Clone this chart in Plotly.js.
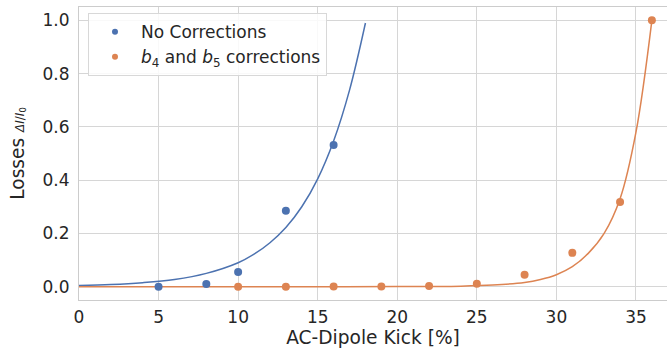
<!DOCTYPE html>
<html>
<head>
<meta charset="utf-8">
<script src="https://cdn.plot.ly/plotly-3.0.1.min.js"></script>
<style>html,body{margin:0;padding:0;background:#fff;}#chart{width:667px;height:350px;}</style>
</head>
<body>
<div id="chart"></div>
<script>
// Measured points
const kickNoCorr = [5, 8, 10, 13, 16];
const lossNoCorr = [0.0, 0.01, 0.055, 0.285, 0.532];
const kickCorr = [10, 13, 16, 19, 22, 25, 28, 31, 34, 36];
const lossCorr = [0.0, 0.0, 0.001, 0.001, 0.003, 0.011, 0.045, 0.127, 0.318, 1.0];

// Fit curves
const fitKickNoCorr = [0, 2, 4, 6, 8, 10, 11, 12, 13, 14, 15, 16, 17, 18];
const fitLossNoCorr = [0.0045, 0.008, 0.015, 0.027, 0.05, 0.09, 0.122, 0.165, 0.222, 0.30, 0.405, 0.547, 0.738, 0.99];
const fitKickCorr = [0, 10, 15, 20, 22, 24, 26, 28, 29, 30, 31, 32, 33, 34, 35, 36];
const fitLossCorr = [0.0, 0.0, 0.0001, 0.0004, 0.001, 0.002, 0.006, 0.016, 0.027, 0.045, 0.075, 0.125, 0.2, 0.33, 0.58, 1.0];

const seriesNames = ['No Corrections', '<i>b</i><sub>4</sub> and <i>b</i><sub>5</sub> corrections'];
const xTicks = [0, 5, 10, 15, 20, 25, 30, 35];
const yTicks = [0.0, 0.2, 0.4, 0.6, 0.8, 1.0];
const yTickText = ['0.0', '0.2', '0.4', '0.6', '0.8', '1.0'];

const blue = '#4c72b0', orange = '#dd8452';

const data = [
  {x: fitKickNoCorr, y: fitLossNoCorr, mode: 'lines', line: {color: blue, width: 1.5, shape: 'spline'}, showlegend: false, hoverinfo: 'skip'},
  {x: fitKickCorr, y: fitLossCorr, mode: 'lines', line: {color: orange, width: 1.5, shape: 'spline'}, showlegend: false, hoverinfo: 'skip'},
  {x: kickNoCorr, y: lossNoCorr, mode: 'markers', showlegend: false, marker: {color: blue, size: 8}},
  {x: kickCorr, y: lossCorr, mode: 'markers', showlegend: false, marker: {color: orange, size: 8}},
  // legend-only entries with the smaller legend marker
  {x: [null], y: [null], mode: 'markers', name: seriesNames[0], marker: {color: blue, size: 6}},
  {x: [null], y: [null], mode: 'markers', name: seriesNames[1], marker: {color: orange, size: 6}}
];

const layout = {
  width: 667, height: 350,
  margin: {l: 79, r: 0, t: 7, b: 50},
  paper_bgcolor: '#fff', plot_bgcolor: '#fff',
  font: {family: 'DejaVu Sans', size: 17, color: '#262626'},
  xaxis: {
    range: [0, 36.95], tickvals: xTicks, ticks: '', showgrid: true, gridcolor: '#d6d6d6', gridwidth: 1,
    zeroline: false, showline: true, mirror: true, linecolor: '#cccccc', linewidth: 1,
    tickfont: {size: 17}, ticklabelstandoff: 2,
    title: {text: 'AC-Dipole Kick [%]', font: {size: 18.6}, standoff: 4}
  },
  yaxis: {
    range: [-0.05, 1.05], tickvals: yTicks, ticktext: yTickText, ticks: '', showgrid: true, gridcolor: '#d6d6d6', gridwidth: 1,
    zeroline: false, showline: true, linecolor: '#cccccc', linewidth: 1,
    tickfont: {size: 17}, ticklabelstandoff: 5,
    title: {text: "Losses <span style='font-size:12px'><i>ΔI</i>/<i>I</i><sub>0</sub></span>", font: {size: 18.6}, standoff: 13}
  },
  legend: {
    x: 0.0153, y: 0.979, xanchor: 'left', yanchor: 'top',
    bgcolor: 'rgba(255,255,255,0.85)', bordercolor: '#d8d8d8', borderwidth: 1,
    font: {size: 17}, itemsizing: 'trace', itemwidth: 42, tracegroupgap: 0
  },
  showlegend: true
};

Plotly.newPlot('chart', data, layout, {staticPlot: true, displayModeBar: false});
</script>
</body>
</html>
